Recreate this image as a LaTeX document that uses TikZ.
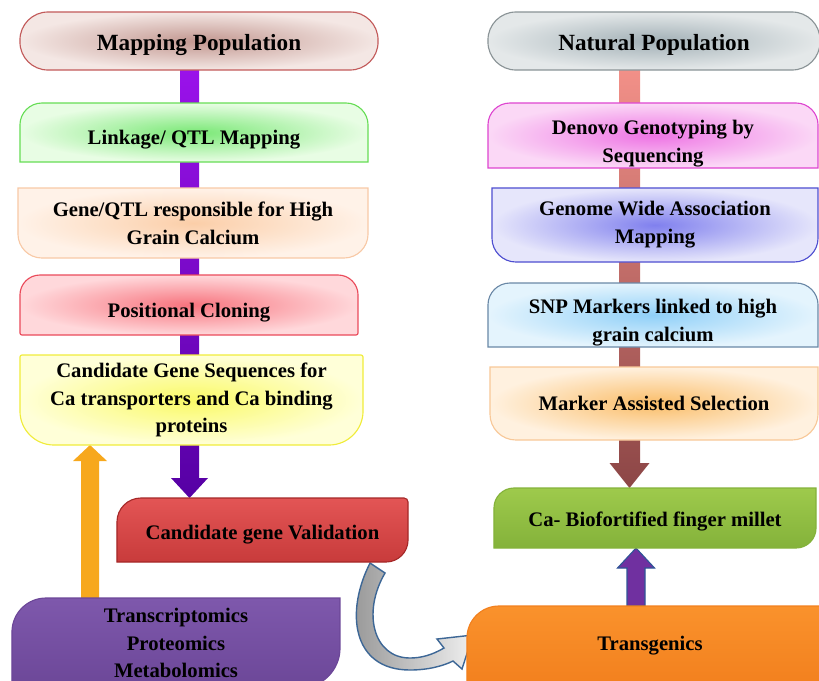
\documentclass[tikz,border=0pt]{standalone}
\usepackage{fontspec}
\setmainfont{Liberation Serif}
\usetikzlibrary{calc}
% box colours: D = border, I = centre, O = rim
\definecolor{mpD}{HTML}{C25A5A}\definecolor{mpI}{HTML}{C29790}\definecolor{mpO}{HTML}{F4E7E4}
\definecolor{lkD}{HTML}{66DD55}\definecolor{lkI}{HTML}{7AE876}\definecolor{lkO}{HTML}{E8FDE4}
\definecolor{gnD}{HTML}{F8C9A6}\definecolor{gnI}{HTML}{FBCEA8}\definecolor{gnO}{HTML}{FFF2E8}
\definecolor{pcD}{HTML}{EA4A5A}\definecolor{pcI}{HTML}{F7747E}\definecolor{pcO}{HTML}{FFD8DB}
\definecolor{sqD}{HTML}{F0EC3A}\definecolor{sqI}{HTML}{FAFA66}\definecolor{sqO}{HTML}{FFFFD8}
\definecolor{npD}{HTML}{8A9396}\definecolor{npI}{HTML}{A2B0B6}\definecolor{npO}{HTML}{E4E8E9}
\definecolor{dnD}{HTML}{DE46D0}\definecolor{dnI}{HTML}{EE74E4}\definecolor{dnO}{HTML}{FBD8F6}
\definecolor{gwD}{HTML}{4E4ED0}\definecolor{gwI}{HTML}{8080EE}\definecolor{gwO}{HTML}{E6E6FB}
\definecolor{snD}{HTML}{6A88A6}\definecolor{snI}{HTML}{90D0F8}\definecolor{snO}{HTML}{E4F4FD}
\definecolor{msD}{HTML}{F8C898}\definecolor{msI}{HTML}{FABD68}\definecolor{msO}{HTML}{FFF1DF}
\definecolor{vaT}{HTML}{E35555}\definecolor{vaB}{HTML}{C83B3B}\definecolor{vaD}{HTML}{A52828}
\definecolor{bfT}{HTML}{9ECA4C}\definecolor{bfB}{HTML}{84B23A}
\definecolor{tgT}{HTML}{FA922C}\definecolor{tgB}{HTML}{F2801E}
\definecolor{omT}{HTML}{7E58AC}\definecolor{omB}{HTML}{6C4798}
% arrow colours
\definecolor{violT}{HTML}{9A12EA}\definecolor{violB}{HTML}{5600A4}
\definecolor{salT}{HTML}{F29088}\definecolor{salB}{HTML}{8C4646}
\definecolor{amber}{HTML}{F7A81D}
\definecolor{plum}{HTML}{7030A0}\definecolor{plumD}{HTML}{2F5597}
\definecolor{bendD}{HTML}{3D6796}
\pgfdeclarelayer{bars}
\pgfdeclarelayer{boxes}
\pgfsetlayers{bars,boxes,main}
\tikzset{
  lbl/.style={align=center, inner sep=0pt, outer sep=0pt, font=\fontsize{14.7}{19.8}\selectfont\bfseries},
  ttl/.style={lbl, font=\fontsize{16.5}{20}\selectfont\bfseries}}
% outline behind a node, radii: top left, top right, bottom right, bottom left
\newcommand{\cornerbox}[6]{%
  \begin{pgfonlayer}{boxes}
    \path[line width=0.8pt, #2] (#1.north) [rounded corners=#4] -- (#1.north east)
      [rounded corners=#5] -- (#1.south east) [rounded corners=#6] -- (#1.south west)
      [rounded corners=#3] -- (#1.north west) -- (#1.north);
  \end{pgfonlayer}}
% block arrow: look, tail, tip, half shaft, half head, head length (signed)
\newcommand{\fatarrow}[6]{%
  \begin{pgfonlayer}{bars}
    \path[#1] ($(#2)+(-#4,0)$) -- ($(#3)+(-#4,#6)$) -- ($(#3)+(-#5,#6)$) -- (#3)
      -- ($(#3)+(#5,#6)$) -- ($(#3)+(#4,#6)$) -- ($(#2)+(#4,0)$) -- cycle;
  \end{pgfonlayer}}

\begin{document}
\begin{tikzpicture}[x=0.025cm, y=-0.025cm]
\useasboundingbox (0,0) rectangle (819,680);
\clip (0,0) rectangle (819,680);
% mapping population column (struts push the text below the rounded tops)
\node[ttl, minimum width=8.95cm, minimum height=1.45cm] (mp) at (199,41) {\rule{0pt}{17pt}Mapping Population};
\node[lbl, minimum width=8.7cm, minimum height=1.475cm] (link) at (194,132.5) {\rule{0pt}{20pt}Linkage/ QTL Mapping};
\node[lbl, minimum width=8.75cm, minimum height=1.75cm] (gene) at (193,223) {Gene/QTL responsible for High\\Grain Calcium};
\node[lbl, minimum width=8.45cm, minimum height=1.5cm] (pos) at (189,305) {\rule{0pt}{21.4pt}Positional Cloning};
\node[lbl, minimum width=8.575cm, minimum height=2.25cm] (seq) at (191.5,400) {Candidate Gene Sequences for\\Ca transporters and Ca binding\\proteins};
\node[lbl, minimum width=7.275cm, minimum height=1.6cm] (val) at (262.5,530) {\rule{0pt}{17pt}Candidate gene Validation};
\node[lbl, minimum width=8.2cm, minimum height=2.25cm] (omics) at (176,643) {Transcriptomics\\Proteomics\\Metabolomics};
% natural population column
\node[ttl, minimum width=8.3cm, minimum height=1.45cm] (nat) at (654,41) {\rule{0pt}{17pt}Natural Population};
\node[lbl, minimum width=8.25cm, minimum height=1.625cm] (den) at (653,135.5) {\rule{0pt}{22pt}Denovo Genotyping by\\Sequencing};
\node[lbl, minimum width=8.15cm, minimum height=1.85cm] (gwas) at (655,225) {Genome Wide Association\\Mapping};
\node[lbl, minimum width=8.25cm, minimum height=1.6cm] (snp) at (653,315) {\rule{0pt}{20.6pt}SNP Markers linked to high\\grain calcium};
\node[lbl, minimum width=8.2cm, minimum height=1.825cm] (mas) at (654,403.5) {Marker Assisted Selection};
\node[lbl, minimum width=8.05cm, minimum height=1.5cm] (bio) at (655,518) {\rule{0pt}{15.7pt}Ca- Biofortified finger millet};
\node[lbl, minimum width=9.15cm, minimum height=2cm] (trans) at (650,646) {Transgenics};

\cornerbox{mp}{draw=mpD, inner color=mpI, outer color=mpO}{0.7cm}{0.7cm}{0.7cm}{0.7cm}
\cornerbox{link}{draw=lkD, inner color=lkI, outer color=lkO}{0.55cm}{0.55cm}{0pt}{0pt}
\cornerbox{gene}{draw=gnD, inner color=gnI, outer color=gnO}{0pt}{0pt}{0.6cm}{0.6cm}
\cornerbox{pos}{draw=pcD, inner color=pcI, outer color=pcO}{0.5cm}{0.5cm}{0.05cm}{0.05cm}
\cornerbox{seq}{draw=sqD, inner color=sqI, outer color=sqO}{0.05cm}{0.05cm}{0.85cm}{0.85cm}
\cornerbox{val}{draw=vaD, top color=vaT, bottom color=vaB}{0.6cm}{0.1cm}{0.55cm}{0pt}
\cornerbox{omics}{draw=omB, top color=omT, bottom color=omB}{0.85cm}{0pt}{1cm}{0pt}
\cornerbox{nat}{draw=npD, inner color=npI, outer color=npO}{0.7cm}{0.7cm}{0.7cm}{0.7cm}
\cornerbox{den}{draw=dnD, inner color=dnI, outer color=dnO}{0.55cm}{0.55cm}{0pt}{0pt}
\cornerbox{gwas}{draw=gwD, inner color=gwI, outer color=gwO}{0pt}{0pt}{0.6cm}{0.6cm}
\cornerbox{snp}{draw=snD, inner color=snI, outer color=snO}{0.55cm}{0.55cm}{0pt}{0pt}
\cornerbox{mas}{draw=msD, inner color=msI, outer color=msO}{0pt}{0pt}{0.65cm}{0.65cm}
\cornerbox{bio}{draw=bfB, top color=bfT, bottom color=bfB}{0.5cm}{0pt}{0.5cm}{0pt}
\cornerbox{trans}{draw=tgB, top color=tgT, bottom color=tgB}{0.8cm}{0pt}{0pt}{0pt}

% block arrows
\coordinate (colL) at (189.5,0);
\coordinate (colR) at (629.5,0);
\coordinate (colO) at (90,0);
\coordinate (colP) at (636,0);
\fatarrow{top color=violT, bottom color=violB}{colL |- mp.south}{colL |- val.north}{9.5}{18.5}{-20}
\fatarrow{top color=salT, bottom color=salB}{colR |- nat.south}{colR |- bio.north}{10.5}{20}{-25}
\fatarrow{fill=amber}{colO |- omics.north}{colO |- seq.south}{9}{17}{16}
\fatarrow{fill=plum, draw=plumD, line width=0.8pt}{colP |- trans.north}{colP |- bio.south}{9}{18.5}{20}

% curved arrow into the transgenics box
\coordinate (bendA) at ($(val.south east)+(-38,1)$);
\coordinate (bendB) at ($(val.south east)+(-23,11)$);
\coordinate (bendT) at ($(trans.west)+(6,-11)$);
\begin{pgfonlayer}{bars}
\path[draw=bendD, line width=1pt, left color=gray!85, right color=gray!12]
  (bendA) .. controls (345,612) and (352,670) .. (410,670)
  .. controls (428,670) and (443,666) .. (453,661) -- (462,669) -- (bendT)
  -- (437,639) -- (444,648) .. controls (432,655) and (421,658) .. (410,658)
  .. controls (373,658) and (362,612) .. (bendB) -- cycle;
\end{pgfonlayer}
\end{tikzpicture}
\end{document}
